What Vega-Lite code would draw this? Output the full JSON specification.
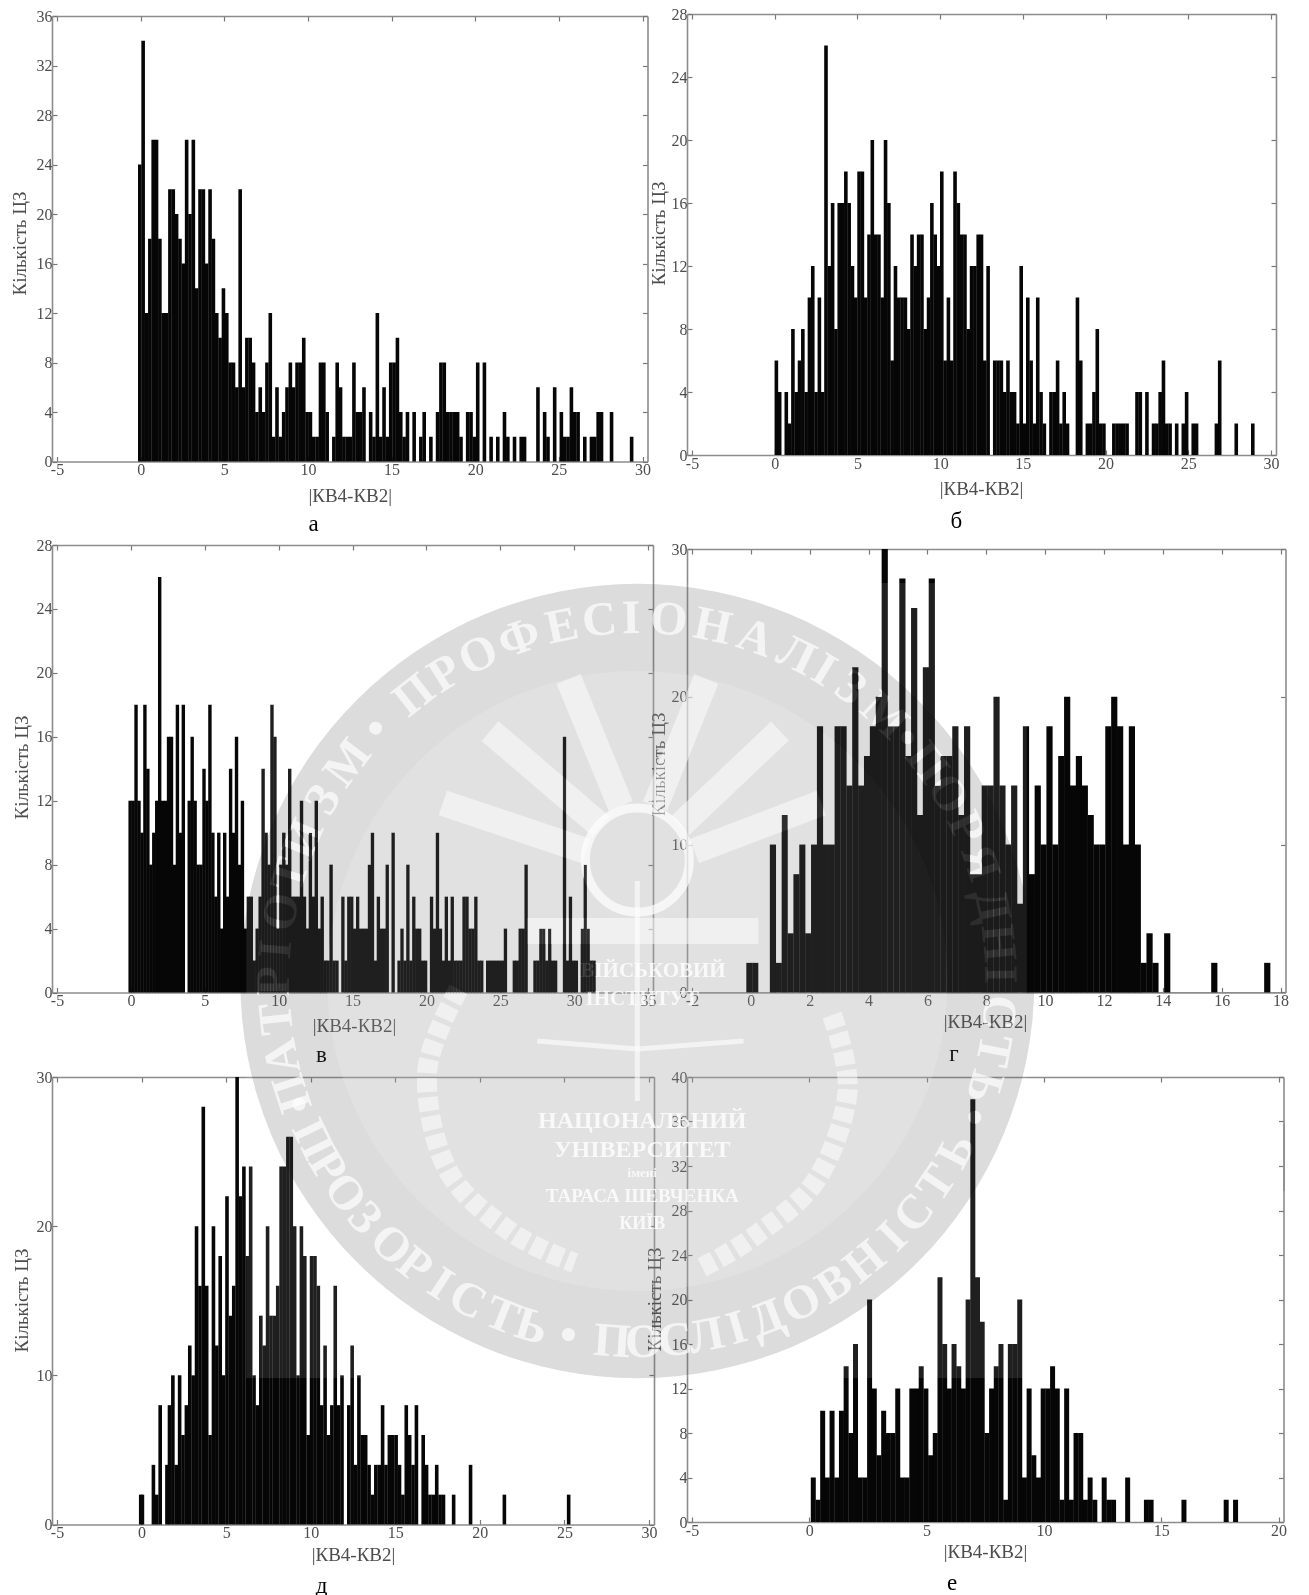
{"$schema":"https://vega.github.io/schema/vega-lite/v6.json","padding":0,"background":"white","bounds":"full","spacing":-431,
"config":{"view":{"stroke":null},"axis":{"grid":false,"labelFont":"Liberation Serif","labelFontSize":16,"labelColor":"#4d4d4d","titleFont":"Liberation Serif","titleFontSize":19,"titleFontWeight":"normal","titleColor":"#4d4d4d","domainColor":"#8c8c8c","domainWidth":1.6,"tickColor":"#777777","tickSize":-5,"tickWidth":1.2,"labelPadding":5,"labelFlush":false,"labelOverlap":false,"titleBaseline":"middle","titleAlign":"center","labelExpr":"''+datum.value"}},
"datasets":{
"sp":[{"s":0}],
"a":[{"x":-0.05,"n":24},{"x":0.15,"n":34},{"x":0.35,"n":12},{"x":0.55,"n":18},{"x":0.75,"n":26},{"x":0.95,"n":26},{"x":1.15,"n":18},{"x":1.35,"n":12},{"x":1.55,"n":12},{"x":1.75,"n":22},{"x":1.95,"n":22},{"x":2.15,"n":20},{"x":2.35,"n":18},{"x":2.55,"n":16},{"x":2.75,"n":26},{"x":2.95,"n":20},{"x":3.15,"n":26},{"x":3.35,"n":14},{"x":3.55,"n":22},{"x":3.75,"n":22},{"x":3.95,"n":16},{"x":4.15,"n":22},{"x":4.35,"n":18},{"x":4.55,"n":12},{"x":4.75,"n":10},{"x":4.95,"n":14},{"x":5.15,"n":12},{"x":5.35,"n":8},{"x":5.55,"n":8},{"x":5.75,"n":6},{"x":5.95,"n":22},{"x":6.15,"n":6},{"x":6.35,"n":10},{"x":6.55,"n":10},{"x":6.75,"n":8},{"x":6.95,"n":4},{"x":7.15,"n":6},{"x":7.35,"n":4},{"x":7.55,"n":8},{"x":7.75,"n":12},{"x":7.95,"n":2},{"x":8.15,"n":6},{"x":8.35,"n":2},{"x":8.55,"n":4},{"x":8.75,"n":6},{"x":8.95,"n":8},{"x":9.15,"n":6},{"x":9.35,"n":8},{"x":9.55,"n":8},{"x":9.75,"n":10},{"x":9.95,"n":4},{"x":10.15,"n":4},{"x":10.35,"n":2},{"x":10.55,"n":2},{"x":10.75,"n":8},{"x":10.95,"n":8},{"x":11.15,"n":4},{"x":11.55,"n":2},{"x":11.75,"n":8},{"x":11.95,"n":6},{"x":12.15,"n":2},{"x":12.35,"n":2},{"x":12.55,"n":2},{"x":12.75,"n":8},{"x":12.95,"n":4},{"x":13.15,"n":4},{"x":13.35,"n":6},{"x":13.75,"n":4},{"x":13.95,"n":2},{"x":14.15,"n":12},{"x":14.35,"n":2},{"x":14.55,"n":6},{"x":14.75,"n":2},{"x":14.95,"n":8},{"x":15.15,"n":8},{"x":15.35,"n":10},{"x":15.55,"n":4},{"x":15.75,"n":2},{"x":15.95,"n":4},{"x":16.35,"n":4},{"x":16.75,"n":2},{"x":16.95,"n":4},{"x":17.35,"n":2},{"x":17.75,"n":4},{"x":17.95,"n":8},{"x":18.15,"n":8},{"x":18.35,"n":4},{"x":18.55,"n":4},{"x":18.75,"n":4},{"x":18.95,"n":4},{"x":19.15,"n":2},{"x":19.55,"n":4},{"x":19.75,"n":4},{"x":19.95,"n":2},{"x":20.15,"n":8},{"x":20.55,"n":8},{"x":20.95,"n":2},{"x":21.35,"n":2},{"x":21.75,"n":4},{"x":21.95,"n":2},{"x":22.35,"n":2},{"x":22.75,"n":2},{"x":22.95,"n":2},{"x":23.75,"n":6},{"x":24.15,"n":4},{"x":24.35,"n":2},{"x":24.75,"n":6},{"x":25.15,"n":4},{"x":25.35,"n":2},{"x":25.55,"n":2},{"x":25.75,"n":6},{"x":25.95,"n":4},{"x":26.15,"n":4},{"x":26.55,"n":2},{"x":26.95,"n":2},{"x":27.15,"n":2},{"x":27.35,"n":4},{"x":27.55,"n":4},{"x":28.15,"n":4},{"x":29.35,"n":2}],
"b":[{"x":0.1,"n":6},{"x":0.3,"n":4},{"x":0.7,"n":4},{"x":0.9,"n":2},{"x":1.1,"n":8},{"x":1.3,"n":4},{"x":1.5,"n":6},{"x":1.7,"n":8},{"x":1.9,"n":4},{"x":2.1,"n":10},{"x":2.3,"n":12},{"x":2.5,"n":4},{"x":2.7,"n":10},{"x":2.9,"n":4},{"x":3.1,"n":26},{"x":3.3,"n":12},{"x":3.5,"n":16},{"x":3.7,"n":8},{"x":3.9,"n":16},{"x":4.1,"n":16},{"x":4.3,"n":18},{"x":4.5,"n":16},{"x":4.7,"n":12},{"x":4.9,"n":10},{"x":5.1,"n":18},{"x":5.3,"n":18},{"x":5.5,"n":10},{"x":5.7,"n":14},{"x":5.9,"n":20},{"x":6.1,"n":14},{"x":6.3,"n":14},{"x":6.5,"n":10},{"x":6.7,"n":20},{"x":6.9,"n":16},{"x":7.1,"n":6},{"x":7.3,"n":12},{"x":7.5,"n":10},{"x":7.7,"n":10},{"x":7.9,"n":10},{"x":8.1,"n":8},{"x":8.3,"n":14},{"x":8.5,"n":12},{"x":8.7,"n":14},{"x":8.9,"n":14},{"x":9.1,"n":8},{"x":9.3,"n":10},{"x":9.5,"n":16},{"x":9.7,"n":14},{"x":9.9,"n":12},{"x":10.1,"n":18},{"x":10.3,"n":6},{"x":10.5,"n":10},{"x":10.7,"n":6},{"x":10.9,"n":18},{"x":11.1,"n":16},{"x":11.3,"n":14},{"x":11.5,"n":14},{"x":11.7,"n":8},{"x":11.9,"n":12},{"x":12.1,"n":12},{"x":12.3,"n":14},{"x":12.5,"n":14},{"x":12.7,"n":6},{"x":12.9,"n":12},{"x":13.3,"n":6},{"x":13.5,"n":6},{"x":13.7,"n":6},{"x":13.9,"n":4},{"x":14.1,"n":6},{"x":14.3,"n":4},{"x":14.5,"n":4},{"x":14.7,"n":2},{"x":14.9,"n":12},{"x":15.1,"n":2},{"x":15.3,"n":10},{"x":15.5,"n":6},{"x":15.7,"n":2},{"x":15.9,"n":10},{"x":16.1,"n":4},{"x":16.3,"n":2},{"x":16.7,"n":4},{"x":16.9,"n":4},{"x":17.1,"n":6},{"x":17.3,"n":2},{"x":17.5,"n":4},{"x":17.7,"n":2},{"x":18.3,"n":10},{"x":18.5,"n":6},{"x":18.9,"n":2},{"x":19.1,"n":2},{"x":19.3,"n":4},{"x":19.5,"n":8},{"x":19.7,"n":2},{"x":19.9,"n":2},{"x":20.5,"n":2},{"x":20.7,"n":2},{"x":20.9,"n":2},{"x":21.1,"n":2},{"x":21.3,"n":2},{"x":21.9,"n":4},{"x":22.1,"n":4},{"x":22.5,"n":4},{"x":22.9,"n":2},{"x":23.1,"n":2},{"x":23.3,"n":4},{"x":23.5,"n":6},{"x":23.7,"n":2},{"x":23.9,"n":2},{"x":24.3,"n":2},{"x":24.7,"n":2},{"x":24.9,"n":4},{"x":25.3,"n":2},{"x":25.5,"n":2},{"x":26.7,"n":2},{"x":26.9,"n":6},{"x":27.9,"n":2},{"x":28.9,"n":2}],
"c":[{"x":-0.05,"n":12},{"x":0.15,"n":12},{"x":0.35,"n":18},{"x":0.55,"n":12},{"x":0.75,"n":10},{"x":0.95,"n":18},{"x":1.15,"n":14},{"x":1.35,"n":8},{"x":1.55,"n":10},{"x":1.75,"n":12},{"x":1.95,"n":26},{"x":2.15,"n":12},{"x":2.35,"n":12},{"x":2.55,"n":16},{"x":2.75,"n":16},{"x":2.95,"n":8},{"x":3.15,"n":18},{"x":3.35,"n":10},{"x":3.55,"n":18},{"x":3.95,"n":12},{"x":4.15,"n":16},{"x":4.35,"n":12},{"x":4.55,"n":8},{"x":4.75,"n":8},{"x":4.95,"n":14},{"x":5.15,"n":12},{"x":5.35,"n":18},{"x":5.55,"n":10},{"x":5.75,"n":6},{"x":5.95,"n":10},{"x":6.15,"n":4},{"x":6.35,"n":10},{"x":6.55,"n":6},{"x":6.75,"n":14},{"x":6.95,"n":10},{"x":7.15,"n":16},{"x":7.35,"n":8},{"x":7.55,"n":12},{"x":7.75,"n":4},{"x":7.95,"n":6},{"x":8.15,"n":6},{"x":8.35,"n":2},{"x":8.55,"n":4},{"x":8.75,"n":6},{"x":8.95,"n":14},{"x":9.15,"n":10},{"x":9.35,"n":8},{"x":9.55,"n":18},{"x":9.75,"n":16},{"x":9.95,"n":4},{"x":10.15,"n":8},{"x":10.35,"n":10},{"x":10.55,"n":8},{"x":10.75,"n":14},{"x":10.95,"n":6},{"x":11.15,"n":6},{"x":11.35,"n":6},{"x":11.55,"n":12},{"x":11.75,"n":6},{"x":11.95,"n":4},{"x":12.15,"n":10},{"x":12.35,"n":6},{"x":12.55,"n":12},{"x":12.75,"n":4},{"x":12.95,"n":6},{"x":13.15,"n":2},{"x":13.35,"n":2},{"x":13.55,"n":8},{"x":13.75,"n":2},{"x":13.95,"n":2},{"x":14.35,"n":6},{"x":14.55,"n":2},{"x":14.75,"n":6},{"x":14.95,"n":6},{"x":15.15,"n":4},{"x":15.35,"n":6},{"x":15.55,"n":4},{"x":15.75,"n":4},{"x":15.95,"n":4},{"x":16.15,"n":8},{"x":16.35,"n":10},{"x":16.55,"n":2},{"x":16.75,"n":6},{"x":16.95,"n":4},{"x":17.15,"n":4},{"x":17.35,"n":8},{"x":17.75,"n":10},{"x":18.15,"n":2},{"x":18.35,"n":4},{"x":18.55,"n":2},{"x":18.75,"n":8},{"x":18.95,"n":2},{"x":19.15,"n":6},{"x":19.35,"n":4},{"x":19.55,"n":4},{"x":19.75,"n":2},{"x":19.95,"n":2},{"x":20.35,"n":6},{"x":20.55,"n":4},{"x":20.75,"n":10},{"x":20.95,"n":4},{"x":21.15,"n":2},{"x":21.35,"n":6},{"x":21.55,"n":2},{"x":21.75,"n":6},{"x":21.95,"n":2},{"x":22.15,"n":2},{"x":22.35,"n":2},{"x":22.55,"n":6},{"x":22.75,"n":6},{"x":22.95,"n":4},{"x":23.15,"n":4},{"x":23.35,"n":6},{"x":23.55,"n":2},{"x":23.75,"n":2},{"x":24.15,"n":2},{"x":24.35,"n":2},{"x":24.55,"n":2},{"x":24.75,"n":2},{"x":24.95,"n":2},{"x":25.15,"n":2},{"x":25.35,"n":4},{"x":25.95,"n":2},{"x":26.15,"n":2},{"x":26.35,"n":4},{"x":26.55,"n":4},{"x":26.75,"n":8},{"x":27.35,"n":2},{"x":27.55,"n":2},{"x":27.75,"n":4},{"x":27.95,"n":4},{"x":28.15,"n":2},{"x":28.35,"n":4},{"x":28.55,"n":2},{"x":28.75,"n":2},{"x":29.35,"n":16},{"x":29.55,"n":2},{"x":29.75,"n":6},{"x":29.95,"n":2},{"x":30.15,"n":2},{"x":30.55,"n":4},{"x":30.75,"n":8},{"x":30.95,"n":4},{"x":31.15,"n":2},{"x":31.35,"n":2}],
"d":[{"x":-0.05,"n":2},{"x":0.15,"n":2},{"x":0.75,"n":10},{"x":0.95,"n":2},{"x":1.15,"n":12},{"x":1.35,"n":4},{"x":1.55,"n":8},{"x":1.75,"n":10},{"x":1.95,"n":4},{"x":2.15,"n":10},{"x":2.35,"n":18},{"x":2.55,"n":10},{"x":2.75,"n":10},{"x":2.95,"n":18},{"x":3.15,"n":18},{"x":3.35,"n":14},{"x":3.55,"n":22},{"x":3.75,"n":14},{"x":3.95,"n":16},{"x":4.15,"n":18},{"x":4.35,"n":20},{"x":4.55,"n":30},{"x":4.75,"n":18},{"x":4.95,"n":18},{"x":5.15,"n":28},{"x":5.35,"n":16},{"x":5.55,"n":26},{"x":5.75,"n":12},{"x":5.95,"n":22},{"x":6.15,"n":28},{"x":6.35,"n":14},{"x":6.55,"n":16},{"x":6.75,"n":16},{"x":6.95,"n":18},{"x":7.15,"n":12},{"x":7.35,"n":18},{"x":7.55,"n":8},{"x":7.75,"n":8},{"x":7.95,"n":14},{"x":8.15,"n":14},{"x":8.35,"n":20},{"x":8.55,"n":14},{"x":8.75,"n":10},{"x":8.95,"n":14},{"x":9.15,"n":6},{"x":9.35,"n":18},{"x":9.55,"n":8},{"x":9.75,"n":14},{"x":9.95,"n":10},{"x":10.15,"n":18},{"x":10.35,"n":10},{"x":10.55,"n":16},{"x":10.75,"n":20},{"x":10.95,"n":14},{"x":11.15,"n":16},{"x":11.35,"n":14},{"x":11.55,"n":12},{"x":11.75,"n":10},{"x":11.95,"n":10},{"x":12.15,"n":18},{"x":12.35,"n":20},{"x":12.55,"n":18},{"x":12.75,"n":10},{"x":12.95,"n":18},{"x":13.15,"n":10},{"x":13.35,"n":2},{"x":13.55,"n":4},{"x":13.75,"n":2},{"x":14.15,"n":4},{"x":15.75,"n":2},{"x":17.55,"n":2}],
"e":[{"x":-0.05,"n":2},{"x":0.05,"n":2},{"x":0.7,"n":4},{"x":0.9,"n":2},{"x":1.1,"n":8},{"x":1.5,"n":4},{"x":1.65,"n":8},{"x":1.85,"n":10},{"x":2.05,"n":4},{"x":2.25,"n":10},{"x":2.45,"n":6},{"x":2.65,"n":8},{"x":2.85,"n":12},{"x":3.05,"n":10},{"x":3.25,"n":20},{"x":3.45,"n":16},{"x":3.65,"n":28},{"x":3.85,"n":16},{"x":4.05,"n":6},{"x":4.25,"n":20},{"x":4.45,"n":12},{"x":4.65,"n":18},{"x":4.85,"n":10},{"x":5.05,"n":22},{"x":5.25,"n":14},{"x":5.45,"n":16},{"x":5.65,"n":30},{"x":5.85,"n":22},{"x":6.05,"n":24},{"x":6.25,"n":18},{"x":6.45,"n":24},{"x":6.65,"n":10},{"x":6.85,"n":8},{"x":7.05,"n":14},{"x":7.25,"n":12},{"x":7.45,"n":20},{"x":7.65,"n":14},{"x":7.85,"n":14},{"x":8.05,"n":16},{"x":8.25,"n":24},{"x":8.45,"n":24},{"x":8.65,"n":26},{"x":8.85,"n":26},{"x":9.05,"n":20},{"x":9.25,"n":10},{"x":9.45,"n":20},{"x":9.65,"n":18},{"x":9.85,"n":6},{"x":10.05,"n":18},{"x":10.25,"n":18},{"x":10.45,"n":16},{"x":10.65,"n":8},{"x":10.85,"n":12},{"x":11.05,"n":6},{"x":11.25,"n":8},{"x":11.45,"n":16},{"x":11.65,"n":8},{"x":11.85,"n":10},{"x":12.25,"n":8},{"x":12.45,"n":12},{"x":12.65,"n":4},{"x":12.85,"n":10},{"x":13.05,"n":6},{"x":13.25,"n":6},{"x":13.45,"n":4},{"x":13.65,"n":2},{"x":13.85,"n":4},{"x":14.05,"n":4},{"x":14.25,"n":8},{"x":14.45,"n":4},{"x":14.65,"n":6},{"x":14.85,"n":6},{"x":15.05,"n":6},{"x":15.25,"n":4},{"x":15.45,"n":2},{"x":15.65,"n":8},{"x":15.85,"n":6},{"x":16.05,"n":4},{"x":16.25,"n":8},{"x":16.65,"n":6},{"x":16.85,"n":4},{"x":17.05,"n":2},{"x":17.25,"n":2},{"x":17.45,"n":4},{"x":17.65,"n":2},{"x":17.85,"n":2},{"x":18.45,"n":2},{"x":19.45,"n":4},{"x":21.45,"n":2},{"x":25.25,"n":2}],
"f":[{"x":0.17,"n":4},{"x":0.37,"n":2},{"x":0.57,"n":10},{"x":0.77,"n":4},{"x":0.97,"n":10},{"x":1.17,"n":4},{"x":1.37,"n":10},{"x":1.57,"n":14},{"x":1.77,"n":8},{"x":1.97,"n":16},{"x":2.17,"n":4},{"x":2.37,"n":4},{"x":2.57,"n":20},{"x":2.77,"n":12},{"x":2.97,"n":6},{"x":3.17,"n":10},{"x":3.37,"n":8},{"x":3.57,"n":8},{"x":3.77,"n":12},{"x":3.97,"n":4},{"x":4.17,"n":4},{"x":4.37,"n":12},{"x":4.57,"n":12},{"x":4.77,"n":14},{"x":4.97,"n":12},{"x":5.17,"n":6},{"x":5.37,"n":8},{"x":5.57,"n":22},{"x":5.77,"n":16},{"x":5.97,"n":12},{"x":6.17,"n":16},{"x":6.37,"n":14},{"x":6.57,"n":12},{"x":6.77,"n":20},{"x":6.97,"n":38},{"x":7.17,"n":22},{"x":7.37,"n":18},{"x":7.57,"n":8},{"x":7.77,"n":12},{"x":7.97,"n":14},{"x":8.17,"n":16},{"x":8.37,"n":2},{"x":8.57,"n":16},{"x":8.77,"n":16},{"x":8.97,"n":20},{"x":9.17,"n":4},{"x":9.37,"n":12},{"x":9.57,"n":6},{"x":9.77,"n":4},{"x":9.97,"n":12},{"x":10.17,"n":12},{"x":10.37,"n":14},{"x":10.57,"n":12},{"x":10.77,"n":2},{"x":10.97,"n":12},{"x":11.17,"n":2},{"x":11.37,"n":8},{"x":11.57,"n":8},{"x":11.77,"n":2},{"x":11.97,"n":4},{"x":12.17,"n":2},{"x":12.57,"n":4},{"x":12.77,"n":2},{"x":12.97,"n":2},{"x":13.57,"n":4},{"x":14.37,"n":2},{"x":14.57,"n":2},{"x":15.97,"n":2},{"x":17.77,"n":2},{"x":18.17,"n":2}]
},
"hconcat":[
{"bounds":"flush","spacing":0,"align":"none","columns":2,"concat":[
{"width":1,"height":1,"data":{"name":"sp"},"mark":{"type":"point","opacity":0,"size":1,"strokeWidth":0},"encoding":{}},
{"width":1,"height":16,"data":{"name":"sp"},"mark":{"type":"point","opacity":0,"size":1,"strokeWidth":0},"encoding":{}},
{"width":52,"height":1,"data":{"name":"sp"},"mark":{"type":"point","opacity":0,"size":1,"strokeWidth":0},"encoding":{}},
{"width":595.5,"height":445.5,"resolve":{"axis":{"x":"independent","y":"independent"}},"layer":[
{"data":{"name":"a"},"mark":{"type":"bar","orient":"vertical","width":3.6,"color":"#060606"},"encoding":{"x":{"field":"x","type":"quantitative","scale":{"domain":[-5,30],"nice":false},"axis":{"orient":"bottom","values":[-5,0,5,10,15,20,25,30],"title":"|КВ4-КВ2|","titleX":297.75,"titleY":33.5}},"y":{"field":"n","type":"quantitative","stack":null,"scale":{"domain":[0,36],"nice":false},"axis":{"orient":"left","values":[0,4,8,12,16,20,24,28,32,36],"title":"Кількість ЦЗ","titleX":-33,"titleY":227}}}},
{"data":{"values":[{"label":"а","cx":10.34,"cy":-5.05}]},"mark":{"type":"text","font":"Liberation Serif","fontSize":23,"color":"#000000","baseline":"middle","align":"center"},"encoding":{"text":{"field":"label"},"x":{"field":"cx","type":"quantitative","scale":{"domain":[-5,30],"nice":false},"axis":{"orient":"top","values":[-5,0,5,10,15,20,25,30],"labels":false,"title":null}},"y":{"field":"cy","type":"quantitative","scale":{"domain":[0,36],"nice":false},"axis":{"orient":"right","values":[0,4,8,12,16,20,24,28,32,36],"labels":false,"title":null}}}}
]},
{"width":1,"height":1,"data":{"name":"sp"},"mark":{"type":"point","opacity":0,"size":1,"strokeWidth":0},"encoding":{}},
{"width":1,"height":83,"data":{"name":"sp"},"mark":{"type":"point","opacity":0,"size":1,"strokeWidth":0},"encoding":{}},
{"width":46,"height":1,"data":{"name":"sp"},"mark":{"type":"point","opacity":0,"size":1,"strokeWidth":0},"encoding":{}},
{"width":601,"height":447.5,"resolve":{"axis":{"x":"independent","y":"independent"}},"layer":[
{"data":{"name":"c"},"mark":{"type":"bar","orient":"vertical","width":3.4,"color":"#060606"},"encoding":{"x":{"field":"x","type":"quantitative","scale":{"domain":[-5,35],"nice":false},"axis":{"orient":"bottom","values":[-5,0,5,10,15,20,25,30,35],"title":"|КВ4-КВ2|","titleX":302,"titleY":32.6}},"y":{"field":"n","type":"quantitative","stack":null,"scale":{"domain":[0,28],"nice":false},"axis":{"orient":"left","values":[0,4,8,12,16,20,24,28],"title":"Кількість ЦЗ","titleX":-31,"titleY":222}}}},
{"data":{"values":[{"label":"в","cx":12.9,"cy":-3.88}]},"mark":{"type":"text","font":"Liberation Serif","fontSize":23,"color":"#000000","baseline":"middle","align":"center"},"encoding":{"text":{"field":"label"},"x":{"field":"cx","type":"quantitative","scale":{"domain":[-5,35],"nice":false},"axis":{"orient":"top","values":[-5,0,5,10,15,20,25,30,35],"labels":false,"title":null}},"y":{"field":"cy","type":"quantitative","scale":{"domain":[0,28],"nice":false},"axis":{"orient":"right","values":[0,4,8,12,16,20,24,28],"labels":false,"title":null}}}}
]},
{"width":1,"height":1,"data":{"name":"sp"},"mark":{"type":"point","opacity":0,"size":1,"strokeWidth":0},"encoding":{}},
{"width":1,"height":84,"data":{"name":"sp"},"mark":{"type":"point","opacity":0,"size":1,"strokeWidth":0},"encoding":{}},
{"width":46,"height":1,"data":{"name":"sp"},"mark":{"type":"point","opacity":0,"size":1,"strokeWidth":0},"encoding":{}},
{"width":602,"height":447.5,"resolve":{"axis":{"x":"independent","y":"independent"}},"layer":[
{"data":{"name":"e"},"mark":{"type":"bar","orient":"vertical","width":3.6,"color":"#060606"},"encoding":{"x":{"field":"x","type":"quantitative","scale":{"domain":[-5,30],"nice":false},"axis":{"orient":"bottom","values":[-5,0,5,10,15,20,25,30],"title":"|КВ4-КВ2|","titleX":301,"titleY":29.5}},"y":{"field":"n","type":"quantitative","stack":null,"scale":{"domain":[0,30],"nice":false},"axis":{"orient":"left","values":[0,10,20,30],"title":"Кількість ЦЗ","titleX":-30.5,"titleY":223}}}},
{"data":{"values":[{"label":"д","cx":10.64,"cy":-4.12}]},"mark":{"type":"text","font":"Liberation Serif","fontSize":23,"color":"#000000","baseline":"middle","align":"center"},"encoding":{"text":{"field":"label"},"x":{"field":"cx","type":"quantitative","scale":{"domain":[-5,30],"nice":false},"axis":{"orient":"top","values":[-5,0,5,10,15,20,25,30],"labels":false,"title":null}},"y":{"field":"cy","type":"quantitative","scale":{"domain":[0,30],"nice":false},"axis":{"orient":"right","values":[0,10,20,30],"labels":false,"title":null}}}}
]}
]},
{"bounds":"flush","spacing":0,"align":"none","columns":2,"concat":[
{"width":1,"height":1,"data":{"name":"sp"},"mark":{"type":"point","opacity":0,"size":1,"strokeWidth":0},"encoding":{}},
{"width":1,"height":14,"data":{"name":"sp"},"mark":{"type":"point","opacity":0,"size":1,"strokeWidth":0},"encoding":{}},
{"width":24,"height":1,"data":{"name":"sp"},"mark":{"type":"point","opacity":0,"size":1,"strokeWidth":0},"encoding":{}},
{"width":589,"height":441,"resolve":{"axis":{"x":"independent","y":"independent"}},"layer":[
{"data":{"name":"b"},"mark":{"type":"bar","orient":"vertical","width":3.6,"color":"#060606"},"encoding":{"x":{"field":"x","type":"quantitative","scale":{"domain":[-5,30],"nice":false},"axis":{"orient":"bottom","values":[-5,0,5,10,15,20,25,30],"title":"|КВ4-КВ2|","titleX":294,"titleY":33.5}},"y":{"field":"n","type":"quantitative","stack":null,"scale":{"domain":[0,28],"nice":false},"axis":{"orient":"left","values":[0,4,8,12,16,20,24,28],"title":"Кількість ЦЗ","titleX":-29,"titleY":219}}}},
{"data":{"values":[{"label":"б","cx":10.98,"cy":-4.17}]},"mark":{"type":"text","font":"Liberation Serif","fontSize":23,"color":"#000000","baseline":"middle","align":"center"},"encoding":{"text":{"field":"label"},"x":{"field":"cx","type":"quantitative","scale":{"domain":[-5,30],"nice":false},"axis":{"orient":"top","values":[-5,0,5,10,15,20,25,30],"labels":false,"title":null}},"y":{"field":"cy","type":"quantitative","scale":{"domain":[0,28],"nice":false},"axis":{"orient":"right","values":[0,4,8,12,16,20,24,28],"labels":false,"title":null}}}}
]},
{"width":1,"height":1,"data":{"name":"sp"},"mark":{"type":"point","opacity":0,"size":1,"strokeWidth":0},"encoding":{}},
{"width":1,"height":93.6,"data":{"name":"sp"},"mark":{"type":"point","opacity":0,"size":1,"strokeWidth":0},"encoding":{}},
{"width":26.5,"height":1,"data":{"name":"sp"},"mark":{"type":"point","opacity":0,"size":1,"strokeWidth":0},"encoding":{}},
{"width":598.5,"height":443.4,"resolve":{"axis":{"x":"independent","y":"independent"}},"layer":[
{"data":{"name":"d"},"mark":{"type":"bar","orient":"vertical","width":6.2,"color":"#060606"},"encoding":{"x":{"field":"x","type":"quantitative","scale":{"domain":[-2,18],"nice":false},"axis":{"orient":"bottom","values":[-2,0,2,4,6,8,10,12,14,16,18],"title":"|КВ4-КВ2|","titleX":298,"titleY":29}},"y":{"field":"n","type":"quantitative","stack":null,"scale":{"domain":[0,30],"nice":false},"axis":{"orient":"left","values":[0,10,20,30],"title":"Кількість ЦЗ","titleX":-29,"titleY":215}}}},
{"data":{"values":[{"label":"г","cx":6.9,"cy":-4.19}]},"mark":{"type":"text","font":"Liberation Serif","fontSize":23,"color":"#000000","baseline":"middle","align":"center"},"encoding":{"text":{"field":"label"},"x":{"field":"cx","type":"quantitative","scale":{"domain":[-2,18],"nice":false},"axis":{"orient":"top","values":[-2,0,2,4,6,8,10,12,14,16,18],"labels":false,"title":null}},"y":{"field":"cy","type":"quantitative","scale":{"domain":[0,30],"nice":false},"axis":{"orient":"right","values":[0,10,20,30],"labels":false,"title":null}}}}
]},
{"width":1,"height":1,"data":{"name":"sp"},"mark":{"type":"point","opacity":0,"size":1,"strokeWidth":0},"encoding":{}},
{"width":1,"height":84,"data":{"name":"sp"},"mark":{"type":"point","opacity":0,"size":1,"strokeWidth":0},"encoding":{}},
{"width":28.5,"height":1,"data":{"name":"sp"},"mark":{"type":"point","opacity":0,"size":1,"strokeWidth":0},"encoding":{}},
{"width":596.5,"height":445,"resolve":{"axis":{"x":"independent","y":"independent"}},"layer":[
{"data":{"name":"f"},"mark":{"type":"bar","orient":"vertical","width":5,"color":"#060606"},"encoding":{"x":{"field":"x","type":"quantitative","scale":{"domain":[-5,20],"nice":false},"axis":{"orient":"bottom","values":[-5,0,5,10,15,20],"title":"|КВ4-КВ2|","titleX":298,"titleY":29}},"y":{"field":"n","type":"quantitative","stack":null,"scale":{"domain":[0,40],"nice":false},"axis":{"orient":"left","values":[0,4,8,12,16,20,24,28,32,36,40],"title":"Кількість ЦЗ","titleX":-32.5,"titleY":222}}}},
{"data":{"values":[{"label":"е","cx":6.09,"cy":-5.48}]},"mark":{"type":"text","font":"Liberation Serif","fontSize":23,"color":"#000000","baseline":"middle","align":"center"},"encoding":{"text":{"field":"label"},"x":{"field":"cx","type":"quantitative","scale":{"domain":[-5,20],"nice":false},"axis":{"orient":"top","values":[-5,0,5,10,15,20],"labels":false,"title":null}},"y":{"field":"cy","type":"quantitative","scale":{"domain":[0,40],"nice":false},"axis":{"orient":"right","values":[0,4,8,12,16,20,24,28,32,36,40],"labels":false,"title":null}}}},
{"data":{"values":[{"px":20.24,"a":29.75,"b":35.8}]},"mark":{"type":"rule","color":"#8c8c8c","strokeWidth":1.5},"encoding":{"x":{"field":"px","type":"quantitative","scale":{"domain":[-5,20],"nice":false},"axis":null},"y":{"field":"a","type":"quantitative","scale":{"domain":[0,40],"nice":false},"axis":null},"y2":{"field":"b"}}},
{"data":{"values":[{"x1":-24.0,"x2":9.27,"y1":12.94,"y2":84.4}]},"mark":{"type":"rect","color":"#ffffff","opacity":0.1},"encoding":{"x":{"field":"x1","type":"quantitative","scale":{"domain":[-5,20],"nice":false},"axis":null},"x2":{"field":"x2"},"y":{"field":"y1","type":"quantitative","scale":{"domain":[0,40],"nice":false},"axis":null},"y2":{"field":"y2"}}},
{"data":{"values":[{"cx":-7.33,"cy":48.63}]},"mark":{"type":"point","shape":"circle","filled":true,"size":630436,"color":"#dcdcdc","opacity":1,"strokeWidth":0,"blend":"multiply"},"encoding":{"x":{"field":"cx","type":"quantitative","scale":{"domain":[-5,20],"nice":false},"axis":null},"y":{"field":"cy","type":"quantitative","scale":{"domain":[0,40],"nice":false},"axis":null}}},
{"data":{"values":[{"cx":-7.33,"cy":48.63}]},"mark":{"type":"point","shape":"circle","filled":true,"size":384400,"color":"#ffffff","opacity":0.15,"strokeWidth":0,"blend":"overlay"},"encoding":{"x":{"field":"cx","type":"quantitative","scale":{"domain":[-5,20],"nice":false},"axis":null},"y":{"field":"cy","type":"quantitative","scale":{"domain":[0,40],"nice":false},"axis":null}}},
{"data":{"values":[{"x1":-10.26,"y1":75.78,"x2":-8.04,"y2":64.36},{"x1":-13.61,"y1":71.1,"x2":-8.88,"y2":62.56},{"x1":-15.62,"y1":64.63,"x2":-9.51,"y2":60.31},{"x1":-4.39,"y1":75.78,"x2":-6.57,"y2":64.36},{"x1":-1.25,"y1":71.1,"x2":-5.52,"y2":62.56},{"x1":0.51,"y1":64.63,"x2":-4.9,"y2":60.31},{"x1":-12.02,"y1":53.12,"x2":-2.17,"y2":53.12}]},"mark":{"type":"rule","color":"#ffffff","strokeWidth":26,"opacity":0.5,"blend":"overlay"},"encoding":{"x":{"field":"x1","type":"quantitative","scale":{"domain":[-5,20],"nice":false},"axis":null},"y":{"field":"y1","type":"quantitative","scale":{"domain":[0,40],"nice":false},"axis":null},"x2":{"field":"x2"},"y2":{"field":"y2"}}},
{"data":{"values":[{"x1":-7.33,"y1":57.62,"x2":-7.33,"y2":37.84},{"x1":-11.6,"y1":43.24,"x2":-7.33,"y2":42.52},{"x1":-7.33,"y1":42.52,"x2":-2.8,"y2":43.24}]},"mark":{"type":"rule","color":"#ffffff","strokeWidth":5,"opacity":0.6,"blend":"overlay"},"encoding":{"x":{"field":"x1","type":"quantitative","scale":{"domain":[-5,20],"nice":false},"axis":null},"y":{"field":"y1","type":"quantitative","scale":{"domain":[0,40],"nice":false},"axis":null},"x2":{"field":"x2"},"y2":{"field":"y2"}}},
{"data":{"values":[{"cx":-7.33,"cy":59.5}]},"mark":{"type":"point","shape":"circle","filled":false,"size":10816,"color":"#ffffff","strokeWidth":9,"opacity":0.7,"blend":"overlay"},"encoding":{"x":{"field":"cx","type":"quantitative","scale":{"domain":[-5,20],"nice":false},"axis":null},"y":{"field":"cy","type":"quantitative","scale":{"domain":[0,40],"nice":false},"axis":null}}},
{"data":{"values":[{"side":"l","i":1,"lx":-14.95,"ly":47.87},{"side":"l","i":2,"lx":-16.29,"ly":40.45},{"side":"l","i":3,"lx":-15.41,"ly":31.64},{"side":"l","i":4,"lx":-12.72,"ly":26.07},{"side":"l","i":5,"lx":-10.0,"ly":23.28},{"side":"r","i":1,"lx":0.97,"ly":45.57},{"side":"r","i":2,"lx":1.63,"ly":38.65},{"side":"r","i":3,"lx":0.3,"ly":30.74},{"side":"r","i":4,"lx":-2.39,"ly":25.62},{"side":"r","i":5,"lx":-4.64,"ly":22.83}]},"mark":{"type":"line","color":"#ffffff","strokeWidth":20,"strokeDash":[14,5],"opacity":0.5,"interpolate":"cardinal","blend":"overlay"},"encoding":{"detail":{"field":"side"},"order":{"field":"i"},"x":{"field":"lx","type":"quantitative","scale":{"domain":[-5,20],"nice":false},"axis":null},"y":{"field":"ly","type":"quantitative","scale":{"domain":[0,40],"nice":false},"axis":null}}},
{"data":{"values":[
{"ch":"П","deg":-38,"rot":-38},{"ch":"Р","deg":-32,"rot":-32},{"ch":"О","deg":-26,"rot":-26},{"ch":"Ф","deg":-19,"rot":-19},{"ch":"Е","deg":-12,"rot":-12},{"ch":"С","deg":-6,"rot":-6},{"ch":"І","deg":-1,"rot":-1},{"ch":"О","deg":5,"rot":5},{"ch":"Н","deg":12,"rot":12},{"ch":"А","deg":19,"rot":19},{"ch":"Л","deg":26,"rot":26},{"ch":"І","deg":31,"rot":31},{"ch":"З","deg":36,"rot":36},{"ch":"М","deg":43,"rot":43},
{"ch":"•","deg":48,"rot":48},
{"ch":"П","deg":53,"rot":53},{"ch":"О","deg":59,"rot":59},{"ch":"Р","deg":65,"rot":65},{"ch":"Я","deg":71,"rot":71},{"ch":"Д","deg":78,"rot":78},{"ch":"Н","deg":84,"rot":84},{"ch":"І","deg":89,"rot":89},{"ch":"С","deg":95,"rot":95},{"ch":"Т","deg":101,"rot":101},{"ch":"Ь","deg":107,"rot":107},
{"ch":"•","deg":112,"rot":112},
{"ch":"Ь","deg":118,"rot":-62},{"ch":"Т","deg":124,"rot":-56},{"ch":"С","deg":130,"rot":-50},{"ch":"І","deg":135,"rot":-45},{"ch":"Н","deg":141,"rot":-39},{"ch":"В","deg":147,"rot":-33},{"ch":"О","deg":153,"rot":-27},{"ch":"Д","deg":159,"rot":-21},{"ch":"І","deg":164,"rot":-16},{"ch":"Л","deg":169,"rot":-11},{"ch":"С","deg":174,"rot":-6},{"ch":"О","deg":179,"rot":-1},{"ch":"П","deg":184,"rot":4},
{"ch":"•","deg":191,"rot":11},
{"ch":"Ь","deg":197,"rot":17},{"ch":"Т","deg":202,"rot":22},{"ch":"С","deg":208,"rot":28},{"ch":"І","deg":213,"rot":33},{"ch":"Р","deg":218,"rot":38},{"ch":"О","deg":223,"rot":43},{"ch":"З","deg":229,"rot":49},{"ch":"О","deg":234,"rot":54},{"ch":"Р","deg":239,"rot":59},{"ch":"П","deg":244,"rot":64},
{"ch":"•","deg":250,"rot":70},
{"ch":"П","deg":-108,"rot":-108},{"ch":"А","deg":-102,"rot":-102},{"ch":"Т","deg":-96,"rot":-96},{"ch":"Р","deg":-90,"rot":-90},{"ch":"І","deg":-85,"rot":-85},{"ch":"О","deg":-79,"rot":-79},{"ch":"Т","deg":-73,"rot":-73},{"ch":"И","deg":-67,"rot":-67},{"ch":"З","deg":-60,"rot":-60},{"ch":"М","deg":-53,"rot":-53},
{"ch":"•","deg":-46,"rot":-46}
]},"mark":{"type":"text","font":"Liberation Serif","fontSize":48,"fontWeight":"bold","color":"#ffffff","opacity":0.7,"baseline":"middle","align":"center","radius":362,"blend":"overlay"},"encoding":{"text":{"field":"ch"},"theta":{"field":"deg","type":"quantitative","scale":{"domain":[0,360],"range":[0,6.2832]}},"angle":{"field":"rot","type":"quantitative","scale":null},"x":{"datum":-7.33,"type":"quantitative","scale":{"domain":[-5,20],"nice":false},"axis":null},"y":{"datum":48.63,"type":"quantitative","scale":{"domain":[0,40],"nice":false},"axis":null}}},
{"data":{"values":[
{"t":"ВІЙСЬКОВИЙ","cx":-6.66,"cy":49.53,"s":21},{"t":"ІНСТИТУТ","cx":-7.12,"cy":46.97,"s":21},{"t":"НАЦІОНАЛЬНИЙ","cx":-7.12,"cy":36.04,"s":24},{"t":"УНІВЕРСИТЕТ","cx":-7.12,"cy":33.44,"s":24},{"t":"імені","cx":-7.12,"cy":31.37,"s":13},{"t":"ТАРАСА ШЕВЧЕНКА","cx":-7.12,"cy":29.3,"s":19},{"t":"КИЇВ","cx":-7.12,"cy":26.8,"s":18}
]},"mark":{"type":"text","font":"Liberation Serif","fontWeight":"bold","color":"#ffffff","opacity":0.8,"baseline":"middle","align":"center","blend":"overlay"},"encoding":{"text":{"field":"t"},"size":{"field":"s","type":"quantitative","scale":null},"x":{"field":"cx","type":"quantitative","scale":{"domain":[-5,20],"nice":false},"axis":null},"y":{"field":"cy","type":"quantitative","scale":{"domain":[0,40],"nice":false},"axis":null}}}
]}
]}
]}
